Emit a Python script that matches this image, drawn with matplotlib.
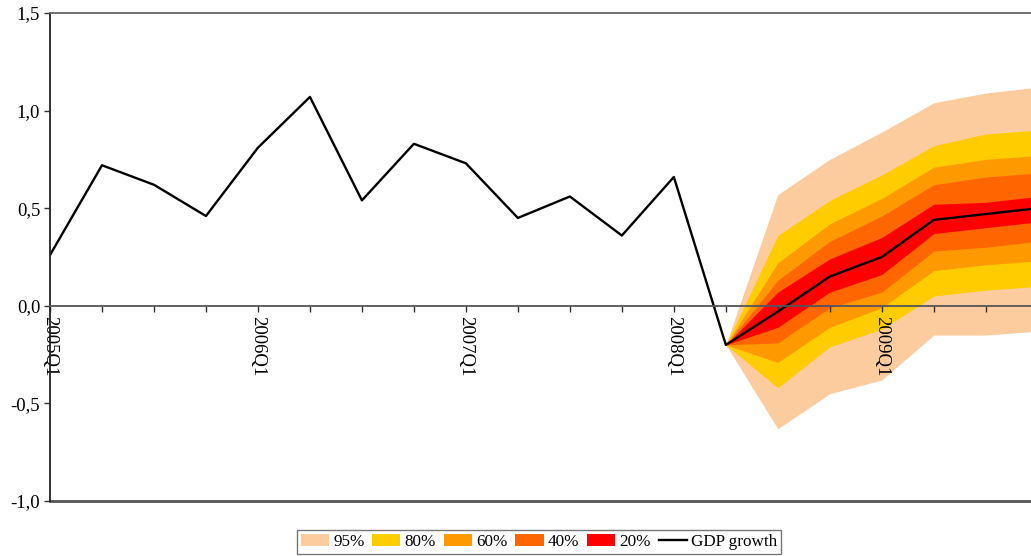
#!/usr/bin/env python3
# -*- coding: utf-8 -*-

"""GDP growth with fan chart of forecast uncertainty."""

import matplotlib
matplotlib.use("Agg")
from matplotlib import pyplot as plt
from matplotlib.patches import Patch
from matplotlib.lines import Line2D

quarters = ["2005Q1", "2005Q2", "2005Q3", "2005Q4",
            "2006Q1", "2006Q2", "2006Q3", "2006Q4",
            "2007Q1", "2007Q2", "2007Q3", "2007Q4",
            "2008Q1", "2008Q2", "2008Q3", "2008Q4",
            "2009Q1", "2009Q2", "2009Q3", "2009Q4"]
gdp = [0.26, 0.72, 0.62, 0.46, 0.81, 1.07, 0.54, 0.83, 0.73, 0.45,
       0.56, 0.36, 0.66, -0.20, -0.03, 0.15, 0.25, 0.44, 0.47, 0.50]

# fan starts at 2008Q2
fan_start = 13
upper95 = [-0.2, 0.57, 0.75, 0.89, 1.04, 1.09, 1.12]
upper80 = [-0.2, 0.36, 0.54, 0.67, 0.82, 0.88, 0.90]
upper60 = [-0.2, 0.22, 0.42, 0.55, 0.71, 0.75, 0.77]
upper40 = [-0.2, 0.13, 0.33, 0.46, 0.62, 0.66, 0.68]
upper20 = [-0.2, 0.07, 0.24, 0.35, 0.52, 0.53, 0.56]
lower20 = [-0.2, -0.11, 0.07, 0.16, 0.37, 0.40, 0.43]
lower40 = [-0.2, -0.19, -0.01, 0.07, 0.28, 0.30, 0.33]
lower60 = [-0.2, -0.29, -0.11, -0.01, 0.18, 0.21, 0.23]
lower80 = [-0.2, -0.42, -0.21, -0.12, 0.05, 0.08, 0.10]
lower95 = [-0.2, -0.63, -0.45, -0.38, -0.15, -0.15, -0.13]

band_labels = ["95%", "80%", "60%", "40%", "20%"]
band_colors = ["#FCCB9E", "#FFCC00", "#FF9900", "#FF6600", "#FF0000"]

yticks = [-1.0, -0.5, 0.0, 0.5, 1.0, 1.5]
ytick_labels = ["-1,0", "-0,5", "0,0", "0,5", "1,0", "1,5"]


def main():
    plt.rcParams["font.family"] = ["Liberation Serif", "DejaVu Serif"]
    fig = plt.figure(figsize=(10.31, 5.56), dpi=100)
    ax = fig.add_axes([50 / 1031, 55 / 556, 1 - 50 / 1031, 488 / 556])

    x = list(range(len(quarters)))
    xf = x[fan_start:]
    bands = [(lower95, upper95), (lower80, upper80), (lower60, upper60),
             (lower40, upper40), (lower20, upper20)]
    for (lo, hi), col in zip(bands, band_colors):
        ax.fill_between(xf, lo, hi, color=col, linewidth=0)

    ax.plot(x, gdp, color="black", linewidth=1.7)

    ax.spines["right"].set_visible(False)
    ax.spines["top"].set_color("#666666")
    ax.spines["top"].set_linewidth(1.3)
    ax.spines["left"].set_color("#222222")
    ax.spines["left"].set_linewidth(1.3)
    ax.spines["bottom"].set_position(("data", 0))
    ax.spines["bottom"].set_color("#555555")
    ax.spines["bottom"].set_linewidth(1.3)
    ax.axhline(-1.0, color="#555555", linewidth=2.0, clip_on=False)

    ax.set_yticks(yticks)
    ax.set_yticklabels(ytick_labels)
    ax.set_xticks(x)
    ax.set_xticklabels([q if q.endswith("Q1") else "" for q in quarters],
                       rotation=-90, va="top", ha="center")
    ax.tick_params(axis="x", direction="out", length=4, width=1, pad=3,
                   labelsize=13.5, color="#333333")
    ax.tick_params(axis="y", direction="out", length=4, width=1, pad=3,
                   labelsize=13.5, color="#333333")

    # limits after the ticks, so the last quarter stays cut off
    ax.set_xlim(0, 18.87)
    ax.set_ylim(-1.0, 1.5)

    handles = [Patch(facecolor=c, edgecolor="none") for c in band_colors]
    handles.append(Line2D([0], [0], color="black", linewidth=1.7))
    leg = fig.legend(handles, band_labels + ["GDP growth"], ncol=6,
                     loc="center", bbox_to_anchor=(539 / 1031, 1 - 542 / 556),
                     fontsize=12.3, frameon=True, fancybox=False,
                     handlelength=1.65, handleheight=0.65, handletextpad=0.25,
                     columnspacing=0.45, borderpad=0.25)
    leg.get_frame().set_edgecolor("#555555")
    leg.get_frame().set_linewidth(1.0)

    fig.savefig("out.png", dpi=100)


if __name__ == "__main__":
    main()
